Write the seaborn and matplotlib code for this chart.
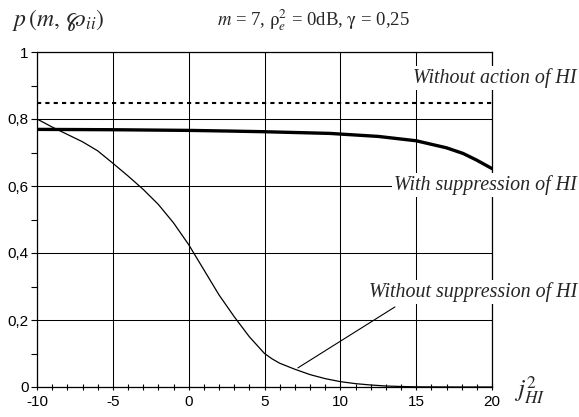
import matplotlib
matplotlib.use("Agg")
import matplotlib.pyplot as plt
import seaborn as sns
import pandas as pd

# Probability of correct reception vs. interference level j^2_HI
x_without = [-10, -9, -8, -7, -6, -5, -4, -3, -2, -1, 0, 1, 2, 3, 4, 5, 5.5, 6, 7, 8, 9, 10, 11, 12, 13, 14, 15, 17.5, 20]
y_without = [0.80, 0.776, 0.754, 0.732, 0.705, 0.668, 0.630, 0.590, 0.545, 0.490, 0.425, 0.350, 0.275, 0.210, 0.150, 0.100, 0.084, 0.071, 0.053, 0.037, 0.025, 0.016, 0.010, 0.006, 0.003, 0.0015, 0.0005, 0.0, 0.0]

x_with = [-10, -5, 0, 2.7, 5, 9.3, 12.5, 15, 17, 18.1, 19, 20]
y_with = [0.769, 0.768, 0.766, 0.764, 0.762, 0.757, 0.748, 0.735, 0.714, 0.697, 0.677, 0.652]

x_noaction = [-10, 20]
y_noaction = [0.847, 0.847]

x_ticks = [-10, -5, 0, 5, 10, 15, 20]
y_ticks = [0, 0.2, 0.4, 0.6, 0.8, 1]
y_tick_labels = ["0", "0,2", "0,4", "0,6", "0,8", "1"]

sns.set_theme(style="white")
plt.rcParams["font.family"] = ["Liberation Sans", "DejaVu Sans"]
plt.rcParams["mathtext.fontset"] = "stix"
plt.rcParams["axes.unicode_minus"] = False

fig = plt.figure(figsize=(5.79, 4.17), dpi=100)
ax = fig.add_axes([37 / 579, 1 - 387 / 417, (492 - 37) / 579, (387 - 52) / 417])

df_wo = pd.DataFrame({"x": x_without, "y": y_without})
df_w = pd.DataFrame({"x": x_with, "y": y_with})
df_na = pd.DataFrame({"x": x_noaction, "y": y_noaction})

sns.lineplot(data=df_na, x="x", y="y", ax=ax, color="black", lw=1.5,
             linestyle=(0, (2, 2)), zorder=3)
sns.lineplot(data=df_w, x="x", y="y", ax=ax, color="black", lw=2.4, zorder=3)
sns.lineplot(data=df_wo, x="x", y="y", ax=ax, color="black", lw=0.9, zorder=3)

ax.set_xlim(-10, 20)
ax.set_ylim(0, 1)
ax.set_xticks(x_ticks)
ax.set_xticks(range(-10, 21), minor=True)
ax.set_yticks(y_ticks)
ax.set_yticklabels(y_tick_labels)
ax.set_yticks([0.1, 0.3, 0.5, 0.7, 0.9], minor=True)
ax.set_xlabel("")
ax.set_ylabel("")

ax.grid(True, which="major", color="black", lw=0.75)
ax.set_axisbelow(True)
for s in ax.spines.values():
    s.set_color("black")
    s.set_linewidth(0.9)

ax.tick_params(axis="x", which="both", direction="inout", length=5, width=0.8,
               bottom=True, colors="black", labelsize=11, pad=3)
ax.tick_params(axis="y", which="both", direction="out", length=4, width=0.8,
               left=True, colors="black", labelsize=11, pad=2)

lab = dict(fontfamily="Liberation Serif", fontstyle="italic", fontsize=14.4,
           ha="right", va="center", clip_on=False, zorder=5,
           bbox=dict(facecolor="white", edgecolor="none", pad=1.5))
ax.text(25.6, 0.922, "Without action of HI", **lab)
ax.text(25.6, 0.603, "With suppression of HI", **lab)
ax.text(25.6, 0.284, "Without suppression of HI", **lab)

ax.annotate("", xy=(7.2, 0.057), xytext=(13.6, 0.239),
            arrowprops=dict(arrowstyle="-", color="black", lw=0.8,
                            shrinkA=0, shrinkB=0))

fig.text(12 / 579, 1 - 20 / 417, r"$p\,(m,\,\wp_{ii})$", fontsize=17,
         ha="left", va="center")
fig.text(313 / 579, 1 - 20 / 417,
         r"$m$ = 7, $\mathrm{\rho}_e^2$ = 0dB, $\mathrm{\gamma}$ = 0,25",
         fontfamily="Liberation Serif", fontsize=13.5, ha="center", va="center")
fig.text(530 / 579, 1 - 390 / 417, r"$j_{HI}^{2}$", fontsize=18,
         ha="center", va="center")

fig.savefig("out.png", dpi=100)
